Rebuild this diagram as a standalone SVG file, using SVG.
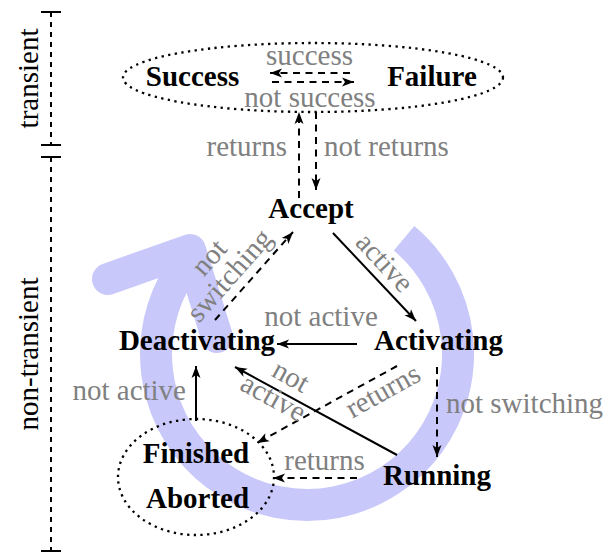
<svg xmlns="http://www.w3.org/2000/svg" width="610" height="553" viewBox="0 0 610 553">
<style>
text{font-family:"Liberation Serif","Times New Roman",serif;font-size:29px}
.node{font-weight:bold;fill:#000;text-anchor:middle}
.lbl{fill:#808080}
.mid{text-anchor:middle}
.end{text-anchor:end}
.edge{stroke:#000;stroke-width:2;fill:none}
.dash{stroke-dasharray:7 5.5}
.dotted{stroke:#000;stroke-width:2.3;fill:none;stroke-dasharray:2.3 4.4}
.axis{stroke:#000;stroke-width:2;fill:none}
.band{stroke:#c8c8fa;stroke-width:32;fill:none}
</style>
<defs>
<marker id="arr" viewBox="-13 -6 14 12" refX="0" refY="0" markerWidth="14" markerHeight="12" markerUnits="userSpaceOnUse" orient="auto">
<path d="M0,0 L-12,-4.5 L-9,0 L-12,4.5 Z" fill="#000"/>
</marker>
</defs>

<g id="cycle-band">
<path class="band" stroke-linejoin="round" d="M404.1,238.3 A151,151 0 1 1 173.7,283.1 L190,250"/>
<path class="band" stroke-linecap="round" stroke-linejoin="round" d="M108,279 L190,250 L217,337"/>
</g>

<g id="axis">
<path class="axis" stroke-dasharray="5 5" d="M51,12 V145 M51,157 V551"/>
<path class="axis" d="M41,12 H61 M41,145 H61 M41,157 H61 M41,551 H61"/>
<text class="mid" transform="translate(38,78.5) rotate(-90)">transient</text>
<text class="mid" transform="translate(38,354) rotate(-90)">non-transient</text>
</g>

<g id="transient-states">
<ellipse class="dotted" cx="313" cy="77.5" rx="190" ry="34.5"/>
</g>
<g id="success"><text class="node" x="192.5" y="86">Success</text></g>
<g id="failure"><text class="node" x="432" y="86">Failure</text></g>
<g id="accept"><text class="node" x="311" y="218">Accept</text></g>
<g id="activating"><text class="node" x="438.5" y="350">Activating</text></g>
<g id="deactivating"><text class="node" x="197" y="350">Deactivating</text></g>
<g id="running"><text class="node" x="437" y="485">Running</text></g>
<g id="end-states">
<ellipse class="dotted" cx="196" cy="477" rx="78" ry="58"/>
</g>
<g id="finished"><text class="node" x="196" y="463">Finished</text></g>
<g id="aborted"><text class="node" x="197.5" y="508">Aborted</text></g>

<g id="connectors">
<line class="edge dash" x1="350" y1="73" x2="270" y2="73" marker-end="url(#arr)"/>
<line class="edge dash" x1="272" y1="82" x2="354" y2="82" marker-end="url(#arr)"/>
<line class="edge dash" x1="299" y1="198" x2="299" y2="112" marker-end="url(#arr)"/>
<line class="edge dash" x1="316" y1="112" x2="316" y2="190" marker-end="url(#arr)"/>
<line class="edge" x1="333" y1="233" x2="416" y2="321" marker-end="url(#arr)"/>
<line class="edge" x1="357" y1="344" x2="277" y2="344" marker-end="url(#arr)"/>
<line class="edge dash" x1="215" y1="320" x2="293" y2="232" marker-end="url(#arr)"/>
<line class="edge dash" x1="437" y1="367" x2="437" y2="457" marker-end="url(#arr)"/>
<line class="edge" x1="397" y1="455" x2="235" y2="367" marker-end="url(#arr)"/>
<line class="edge dash" x1="397" y1="366" x2="257" y2="443" marker-end="url(#arr)"/>
<line class="edge dash" x1="357" y1="478" x2="273" y2="478" marker-end="url(#arr)"/>
<line class="edge" x1="196" y1="421" x2="196" y2="366" marker-end="url(#arr)"/>

<text class="lbl mid" x="309.5" y="65">success</text>
<text class="lbl mid" x="310" y="107">not success</text>
<text class="lbl end" x="287" y="156">returns</text>
<text class="lbl" x="324" y="156">not returns</text>
<text class="lbl mid" transform="translate(383,264) rotate(47)" y="7">active</text>
<text class="lbl mid" x="321" y="326">not active</text>
<text class="lbl mid" transform="translate(221,268) rotate(-48.5)"><tspan x="0" y="-6.5">not</tspan><tspan x="0" y="20.5">switching</tspan></text>
<text class="lbl" x="446" y="413">not switching</text>
<text class="lbl mid" transform="translate(281,389) rotate(29)"><tspan x="2.5" y="-6.5">not</tspan><tspan x="-2.5" y="20.5">active</tspan></text>
<text class="lbl mid" transform="translate(384,393) rotate(-29)" y="7">returns</text>
<text class="lbl mid" x="324.5" y="470">returns</text>
<text class="lbl end" x="186" y="400">not active</text>
</g>
</svg>
